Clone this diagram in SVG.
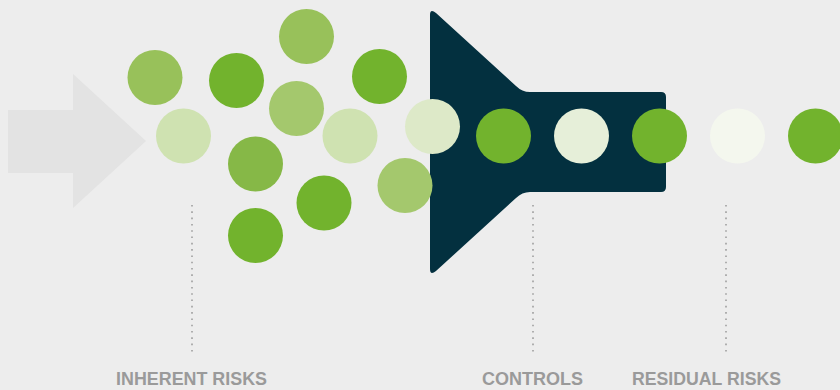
<svg xmlns="http://www.w3.org/2000/svg" width="840" height="390" viewBox="0 0 840 390">
<style>
.lbl{font-family:"Liberation Sans",Arial,sans-serif;font-weight:bold;font-size:18px;fill:#9a9a9a}
.dot{stroke:#9e9e9e;stroke-width:1.6;stroke-dasharray:1.6 4.7;fill:none}
.g1{fill:#72b32d}.g2{fill:#98c15a}.g3{fill:#a4c86d}.g4{fill:#86b847}.g5{fill:#cfe2b1}.g6{fill:#dde9c8}.g7{fill:#e6efd9}.g8{fill:#f4f7ee}
</style>
<rect width="840" height="390" fill="#ededed"/>
<g id="input-arrow"><path d="M8,110 L73,110 L73,74 L146,141 L73,208 L73,173 L8,173 Z" fill="#e3e3e3"/></g>
<g id="funnel"><path d="M430,15 Q430,8 436,13 L516,86 Q522,92 530,92 L661,92 Q666,92 666,97 L666,187 Q666,192 661,192 L530,192 Q522,192 516,198 L436,271 Q430,276 430,269 Z" fill="#03303f"/></g>
<g id="connectors">
<line class="dot" x1="192" y1="205" x2="192" y2="356"/>
<line class="dot" x1="533" y1="205" x2="533" y2="356"/>
<line class="dot" x1="726" y1="205" x2="726" y2="356"/>
</g>
<g id="inherent-risks">
<circle class="g2" cx="155" cy="77.5" r="27.5"/>
<circle class="g5" cx="183.5" cy="136" r="27.5"/>
<circle class="g1" cx="236.5" cy="80.5" r="27.5"/>
<circle class="g2" cx="306.5" cy="36.5" r="27.5"/>
<circle class="g3" cx="296.5" cy="108.5" r="27.5"/>
<circle class="g1" cx="379.5" cy="76.5" r="27.5"/>
<circle class="g5" cx="350" cy="136" r="27.5"/>
<circle class="g4" cx="255.5" cy="164" r="27.5"/>
<circle class="g1" cx="324" cy="203" r="27.5"/>
<circle class="g1" cx="255.5" cy="235.5" r="27.5"/>
<circle class="g3" cx="405" cy="185.5" r="27.5"/>
<circle class="g6" cx="432.5" cy="126.5" r="27.5"/>
</g>
<g id="controls">
<circle class="g1" cx="503.5" cy="136" r="27.5"/>
<circle class="g7" cx="581.5" cy="136" r="27.5"/>
<circle class="g1" cx="659.5" cy="136" r="27.5"/>
</g>
<g id="residual-risks">
<circle class="g8" cx="737.5" cy="136" r="27.5"/>
<circle class="g1" cx="815.5" cy="136" r="27.5"/>
</g>
<g id="labels">
<text class="lbl" x="116" y="385" textLength="151" lengthAdjust="spacingAndGlyphs">INHERENT RISKS</text>
<text class="lbl" x="482" y="385" textLength="101" lengthAdjust="spacingAndGlyphs">CONTROLS</text>
<text class="lbl" x="632" y="385" textLength="149" lengthAdjust="spacingAndGlyphs">RESIDUAL RISKS</text>
</g>
</svg>
